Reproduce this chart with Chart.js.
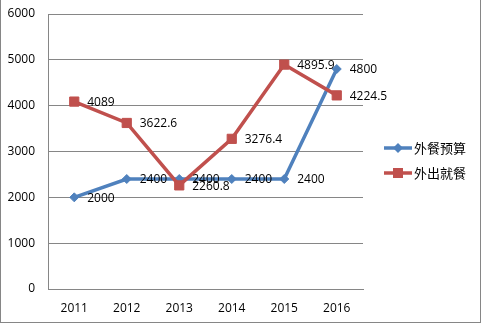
<!DOCTYPE html>
<html>
<head>
<meta charset="utf-8">
<script src="https://cdn.jsdelivr.net/npm/chart.js@4/dist/chart.umd.min.js"></script>
<style>
  html, body { margin: 0; padding: 0; background: #fff; }
  #frame {
    position: absolute; left: 0; top: 0;
    width: 479px; height: 322px;
    border-left: 1px solid #868686;
    border-right: 1px solid #868686;
    border-bottom: 1px solid #868686;
    background: #fff;
  }
  canvas { display: block; }
</style>
</head>
<body>
<div id="frame"><canvas id="c" width="479" height="322"></canvas></div>
<script>
// Years on the category axis
const years = ['2011', '2012', '2013', '2014', '2015', '2016'];
// Budget for eating out
const budget = [2000, 2400, 2400, 2400, 2400, 4800];
// Actual spending on eating out
const actual = [4089, 3622.6, 2260.8, 3276.4, 4895.9, 4224.5];
// Series names
const seriesNames = ['外餐预算', '外出就餐'];
// Value axis ticks
const yTicks = [0, 1000, 2000, 3000, 4000, 5000, 6000];

const BLUE = '#4F81BD';
const RED = '#C0504D';
const GRID = '#868686';
const FONT = '"Open Sans", "Liberation Sans", sans-serif';

// Value labels placed to the right of each point
const valueLabels = {
  id: 'valueLabels',
  afterDatasetsDraw(chart) {
    const ctx = chart.ctx;
    ctx.save();
    ctx.font = '12px ' + FONT;
    ctx.fillStyle = '#000';
    ctx.textAlign = 'left';
    ctx.textBaseline = 'middle';
    chart.data.datasets.forEach((ds, i) => {
      const meta = chart.getDatasetMeta(i);
      meta.data.forEach((pt, j) => {
        ctx.fillText(String(ds.data[j]), pt.x + 13, pt.y + 1);
      });
    });
    ctx.restore();
  }
};

// Legend on the right: line sample with marker, then series name
const sideLegend = {
  id: 'sideLegend',
  afterDraw(chart) {
    const ctx = chart.ctx;
    const x1 = 383, x2 = 411, cx = 397;
    const rows = [148, 173];
    ctx.save();
    chart.data.datasets.forEach((ds, i) => {
      const y = rows[i];
      ctx.strokeStyle = ds.borderColor;
      ctx.lineWidth = 3.5;
      ctx.beginPath();
      ctx.moveTo(x1, y);
      ctx.lineTo(x2, y);
      ctx.stroke();
      ctx.fillStyle = ds.backgroundColor;
      ctx.beginPath();
      if (ds.pointStyle === 'rectRot') {
        const r = 5;
        ctx.moveTo(cx - r, y);
        ctx.lineTo(cx, y - r);
        ctx.lineTo(cx + r, y);
        ctx.lineTo(cx, y + r);
        ctx.closePath();
      } else {
        const h = 5;
        ctx.rect(cx - h, y - h, 2 * h, 2 * h);
      }
      ctx.fill();
      ctx.fillStyle = '#000';
      ctx.font = '13px "Noto Sans CJK SC", sans-serif';
      ctx.textAlign = 'left';
      ctx.textBaseline = 'middle';
      ctx.fillText(ds.label, 413, y);
    });
    ctx.restore();
  }
};

new Chart(document.getElementById('c'), {
  type: 'line',
  data: {
    labels: years,
    datasets: [
      {
        label: seriesNames[0],
        data: budget,
        borderColor: BLUE,
        backgroundColor: BLUE,
        borderWidth: 3.5,
        pointStyle: 'rectRot',
        pointRadius: 4.5,
        pointBorderWidth: 1,
        pointBorderColor: BLUE,
        pointBackgroundColor: BLUE,
        tension: 0,
        order: 2
      },
      {
        label: seriesNames[1],
        data: actual,
        borderColor: RED,
        backgroundColor: RED,
        borderWidth: 3.5,
        pointStyle: 'rect',
        pointRadius: 6.5,
        pointBorderWidth: 1,
        pointBorderColor: RED,
        pointBackgroundColor: RED,
        tension: 0,
        order: 1
      }
    ]
  },
  options: {
    responsive: false,
    animation: false,
    devicePixelRatio: 1,
    layout: { autoPadding: false, padding: { left: 0, right: 117, top: 14, bottom: 0 } },
    plugins: {
      legend: { display: false },
      tooltip: { enabled: false }
    },
    scales: {
      x: {
        offset: true,
        grid: { display: false, drawTicks: false },
        border: { display: true, color: GRID, width: 1 },
        ticks: { color: '#000', font: { family: FONT, size: 12 }, padding: 12, maxRotation: 0 },
        afterFit(s) { s.height = 33; s.paddingLeft = 0; s.paddingRight = 0; }
      },
      y: {
        min: 0,
        max: 6000,
        afterBuildTicks(s) { s.ticks = yTicks.map(v => ({ value: v })); },
        grid: { color: GRID, lineWidth: 1, drawTicks: false },
        border: { display: true, color: GRID, width: 1 },
        ticks: {
          color: '#000',
          font: { family: FONT, size: 12 },
          padding: 13,
          callback: v => String(v)
        },
        afterFit(s) { s.width = 47; s.paddingTop = 0; s.paddingBottom = 0; }
      }
    }
  },
  plugins: [valueLabels, sideLegend]
});
</script>
</body>
</html>
